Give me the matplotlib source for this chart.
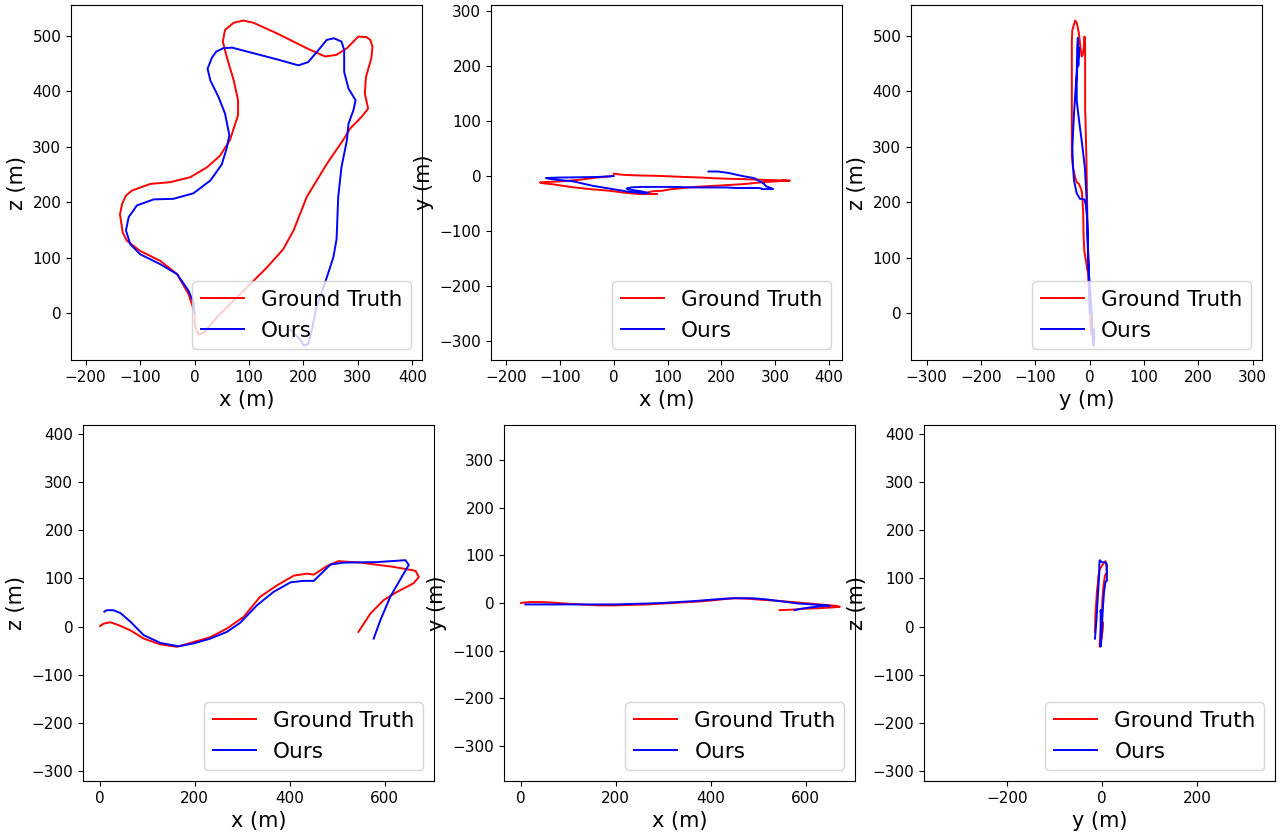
import matplotlib
matplotlib.use("Agg")
import matplotlib.pyplot as plt
import numpy as np

# Sequence 1 (top row) -- ground truth trajectory, metres
gt1_x = [-2, -11, -32, -63, -100, -124, -132, -137, -133, -126, -115, -81, -45, -8, 23, 47, 65,
         80, 80, 72, 59, 52, 56, 72, 90, 108, 151, 206, 240, 261, 280, 292, 301, 316, 323, 327,
         325, 315, 313, 319, 307, 286, 273, 243, 206, 182, 163, 133, 84, 41, 17, 7, 1, 0]
gt1_y = [0, -1, -3, -7, -10, -11, -11.5, -12, -13, -14, -15, -20, -24, -27, -31, -33, -33,
         -33, -33, -33, -33, -33, -32, -28, -27, -24, -20, -17, -15, -13, -11, -10.5, -10, -9, -9, -8.5,
         -8.5, -8.5, -8.5, -8.5, -8, -7.5, -7, -6, -5, -4, -3, -2, 0, 1, 2, 3, 4, 4]
gt1_z = [7, 34, 70, 94, 112, 130, 145, 178, 197, 212, 221, 233, 236, 245, 263, 284, 312,
         357, 384, 420, 463, 490, 511, 524, 528, 524, 505, 478, 463, 466, 478, 490, 499, 498, 493, 481,
         460, 426, 396, 369, 354, 333, 312, 269, 209, 149, 115, 82, 34, -8, -36, -39, -24, -2]

# Sequence 1 -- ours
est1_x = [0, -2, -11, -32, -63, -100, -118, -126, -121, -106, -75, -39, -2, 29, 50, 59, 64, 56,
          44, 29, 24, 32, 40, 53, 69, 108, 151, 191, 209, 228, 243, 256, 270, 275, 275, 283, 296,
          292, 283, 280, 270, 264, 261, 255, 243, 224, 215, 209, 201, 194, 176]
est1_y = [0, -0.5, -1, -2, -2.5, -3, -3.5, -4, -5, -7, -10, -18, -24, -29, -31, -32, -31, -29,
          -27, -25, -23, -21, -20.5, -20, -20, -20, -21, -21, -21, -22, -22, -22, -22, -23, -24, -24,
          -24, -22, -19, -15, -9, -6, -4, -3, -1, 3, 5, 6, 7, 8, 8]
est1_z = [0, 19, 40, 70, 88, 106, 124, 149, 173, 194, 205, 206, 216, 239, 268, 297, 321, 360,
          390, 420, 441, 461, 472, 478, 479, 469, 458, 447, 453, 475, 493, 496, 490, 475, 435, 405,
          384, 366, 342, 312, 263, 209, 133, 100, 64, 10, -33, -56, -59, -48, -30]

# Sequence 2 (bottom row) -- ground truth
gt2_x = [1, 8, 22, 40, 65, 93, 128, 163, 198, 233, 268, 303, 338, 374, 409, 437, 451, 479,
         503, 549, 619, 665, 672, 661, 626, 598, 570, 545]
gt2_y = [0, 1, 2, 2, 1, -1, -3, -5, -5, -4, -3, -1, 1, 3, 6, 9, 10, 9,
         7, 4, -2, -6, -8, -9, -11, -12, -14, -15]
gt2_z = [1, 6, 9, 3, -8, -25, -37, -42, -32, -22, -4, 20, 62, 86, 106, 110, 108, 126,
         136, 133, 124, 116, 103, 90, 72, 55, 27, -11]

# Sequence 2 -- ours
est2_x = [10, 15, 29, 44, 65, 93, 128, 166, 198, 233, 268, 296, 331, 366, 402, 429, 451, 486,
          514, 584, 644, 651, 640, 612, 591, 577]
est2_y = [-3, -3, -3, -3, -3, -3, -3, -3, -3, -2, -1, 0, 2, 4, 7, 9, 10, 10,
          8, -1, -5, -6, -6, -9, -12, -15]
est2_z = [31, 34, 34, 28, 10, -18, -34, -41, -35, -25, -11, 8, 44, 72, 92, 95, 95, 129,
          133, 134, 138, 128, 110, 62, 13, -25]

TICK_SIZE = 11
LABEL_SIZE = 15
LEGEND_SIZE = 15.5


def draw(ax, gx, gy, ex, ey, xlabel, ylabel, xlim, ylim, xticks, yticks):
    ax.plot(gx, gy, color="red", lw=1.4, label="Ground Truth")
    ax.plot(ex, ey, color="blue", lw=1.4, label="Ours")
    ax.set_xlim(*xlim)
    ax.set_ylim(*ylim)
    ax.set_xticks(xticks)
    ax.set_yticks(yticks)
    ax.tick_params(labelsize=TICK_SIZE)
    ax.set_xlabel(xlabel, fontsize=LABEL_SIZE)
    ax.set_ylabel(ylabel, fontsize=LABEL_SIZE)
    ax.legend(loc="lower right", fontsize=LEGEND_SIZE)


fig = plt.figure(figsize=(12.88, 8.34), dpi=100)

W = 351 / 1288
top_h = 355 / 834
bot_h = 356 / 834
top_b = 1 - 360 / 834
bot_b = 1 - 781 / 834

ax = fig.add_axes([71 / 1288, top_b, W, top_h])
draw(ax, gt1_x, gt1_z, est1_x, est1_z, "x (m)", "z (m)", (-227, 418), (-85, 556),
     np.arange(-200, 401, 100), np.arange(0, 501, 100))

ax = fig.add_axes([491 / 1288, top_b, W, top_h])
draw(ax, gt1_x, gt1_y, est1_x, est1_y, "x (m)", "y (m)", (-228, 424), (-335, 311),
     np.arange(-200, 401, 100), np.arange(-300, 301, 100))

ax = fig.add_axes([911 / 1288, top_b, W, top_h])
draw(ax, gt1_y, gt1_z, est1_y, est1_z, "y (m)", "z (m)", (-329, 317), (-85, 556),
     np.arange(-300, 301, 100), np.arange(0, 501, 100))

ax = fig.add_axes([83 / 1288, bot_b, W, bot_h])
draw(ax, gt2_x, gt2_z, est2_x, est2_z, "x (m)", "z (m)", (-35, 704), (-321, 419),
     np.arange(0, 601, 200), np.arange(-300, 401, 100))

ax = fig.add_axes([504 / 1288, bot_b, W, bot_h])
draw(ax, gt2_x, gt2_y, est2_x, est2_y, "x (m)", "y (m)", (-35, 704), (-373, 373),
     np.arange(0, 601, 200), np.arange(-300, 301, 100))

ax = fig.add_axes([924 / 1288, bot_b, W, bot_h])
draw(ax, gt2_y, gt2_z, est2_y, est2_z, "y (m)", "z (m)", (-375, 364), (-321, 419),
     np.arange(-200, 201, 200), np.arange(-300, 401, 100))

fig.savefig("out.png", dpi=100)
plt.close(fig)
